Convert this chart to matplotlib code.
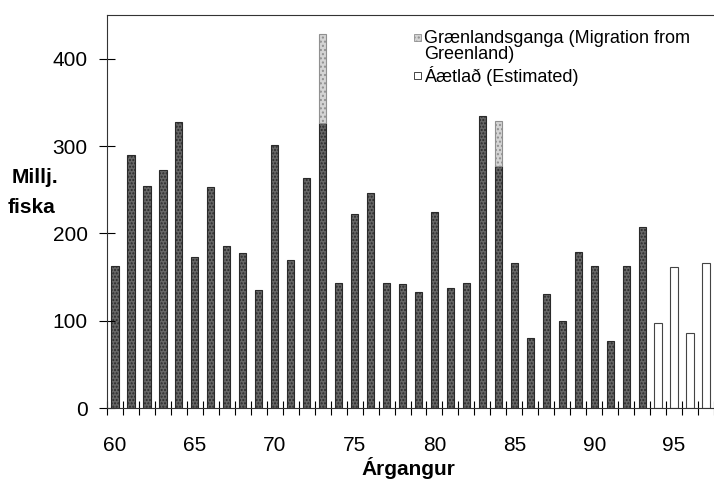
import matplotlib
matplotlib.use("Agg")
import matplotlib.pyplot as plt
from matplotlib.patches import Rectangle

plt.rcParams['font.family'] = ['Liberation Sans', 'DejaVu Sans']

years = list(range(60, 94))
values = [163, 290, 254, 272, 327, 173, 253, 186, 178, 135,
          301, 170, 263, 326, 143, 222, 246, 143, 142, 133,
          225, 137, 143, 334, 277, 166, 80, 130, 100, 179,
          163, 77, 163, 207]
greenland_years = [73, 84]
greenland_base = [326, 277]
greenland_vals = [102, 52]
est_years = [94, 95, 96, 97]
est_vals = [97, 162, 86, 166]
legend_lines = ['Grænlandsganga (Migration from', 'Greenland)', 'Áætlað (Estimated)']

W, H = 714, 480
fig = plt.figure(figsize=(W / 100, H / 100), dpi=100)
left, right, top, bottom = 107, 714, 15, 408
ax = fig.add_axes([left / W, 1 - bottom / H, (right - left) / W, (bottom - top) / H])

w = 0.45
ax.bar(years, values, width=w, color='#666666', edgecolor='#2a2a2a',
       linewidth=0.8, hatch='.....')
ax.bar(greenland_years, greenland_vals, bottom=greenland_base, width=w,
       color='#d4d4d4', edgecolor='#909090', linewidth=0.8, hatch='....')
ax.bar(est_years, est_vals, width=w, color='white', edgecolor='#444444',
       linewidth=0.8)

ax.set_xlim(59.65, 97.5)
ax.set_ylim(0, 450)
ax.set_yticks([0, 100, 200, 300, 400])
ax.set_xticks(list(range(60, 96, 5)))
ax.set_xticks([y + 0.5 for y in range(59, 98)], minor=True)
ax.tick_params(axis='y', direction='inout', length=12, width=0.8,
               labelsize=15, pad=8)
ax.tick_params(axis='x', which='major', length=0, labelsize=15, pad=20)
ax.tick_params(axis='x', which='minor', direction='inout', length=10,
               width=0.8)

ax.spines['right'].set_visible(False)
for s in ['left', 'bottom', 'top']:
    ax.spines[s].set_linewidth(0.8)
    ax.spines[s].set_color('#333333')

# overlay in pixel coordinates for labels and legend
ov = fig.add_axes([0, 0, 1, 1], facecolor='none')
ov.set_xlim(0, W)
ov.set_ylim(H, 0)
ov.axis('off')

ov.text(408, 475, 'Árgangur', fontsize=15, fontweight='bold',
        ha='center', va='baseline')
ov.text(35, 183, 'Millj.', fontsize=15, fontweight='bold',
        ha='center', va='baseline')
ov.text(32, 213, 'fiska', fontsize=15, fontweight='bold',
        ha='center', va='baseline')

ov.add_patch(Rectangle((414, 34), 7, 7, facecolor='#d4d4d4',
                       edgecolor='#909090', hatch='....', linewidth=0.6))
ov.add_patch(Rectangle((414, 72), 7, 7, facecolor='white',
                       edgecolor='#444444', linewidth=0.7))
for txt, yb in zip(legend_lines, [43, 59, 82]):
    ov.text(424, yb, txt, fontsize=13, ha='left', va='baseline')

fig.savefig('out.png', dpi=100)
